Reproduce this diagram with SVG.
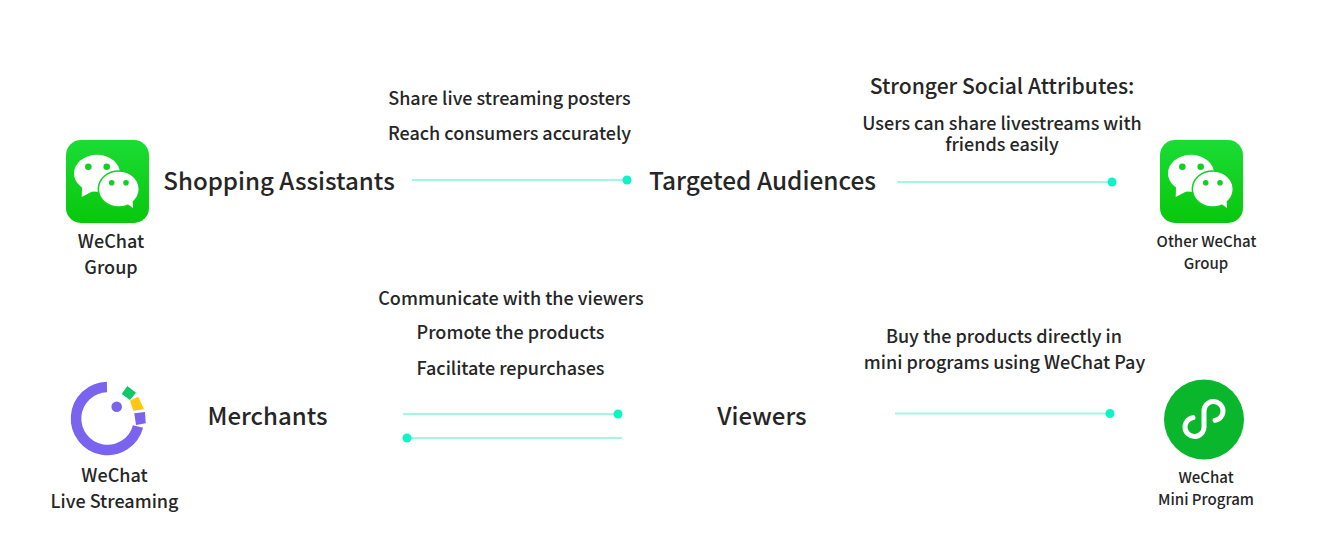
<svg xmlns="http://www.w3.org/2000/svg" width="1323" height="556" viewBox="0 0 1323 556">
<style>
text{font-family:"Noto Sans CJK SC","Noto Sans",sans-serif;font-weight:500;fill:#262626;text-anchor:middle}
.s18{font-size:18px}.s15{font-size:15px}.s24{font-size:24px}.s21{font-size:21.200px}
.ln{stroke:#9ff8e6;stroke-width:2;fill:none}
.dot{fill:#0df5c4}
</style>
<defs>
<linearGradient id="wg" x1="0" y1="0" x2="0" y2="1"><stop offset="0" stop-color="#1bdc35"/><stop offset="1" stop-color="#08c70c"/></linearGradient>
<g id="wechat">
<rect x="0" y="0" width="83" height="83" rx="15" fill="url(#wg)"/>
<ellipse cx="31" cy="33.300" rx="23" ry="18.500" fill="#fff"/>
<path d="M16 47L15.700 57L29 50Z" fill="#fff"/>
<circle cx="22.300" cy="26.700" r="3.300" fill="#12d022"/><circle cx="40.700" cy="26.700" r="3.300" fill="#12d022"/>
<ellipse cx="52.800" cy="49" rx="20.500" ry="18" fill="#fff" stroke="#12d022" stroke-width="1.500"/>
<path d="M60 63L67 68L66.500 58Z" fill="#fff"/>
<circle cx="45.700" cy="42.700" r="2.800" fill="#12d022"/><circle cx="60" cy="42.700" r="2.800" fill="#12d022"/>
</g>
</defs>
<g id="connectors">
<line class="ln" x1="412" y1="180" x2="627" y2="180"/><circle class="dot" cx="627" cy="180" r="4.500"/>
<line class="ln" x1="897" y1="182" x2="1112" y2="182"/><circle class="dot" cx="1112" cy="182" r="4.500"/>
<line class="ln" x1="403" y1="414" x2="618" y2="414"/><circle class="dot" cx="618" cy="414" r="4.500"/>
<line class="ln" x1="407" y1="438" x2="622" y2="438"/><circle class="dot" cx="407" cy="438" r="4.500"/>
<line class="ln" x1="895" y1="413.500" x2="1110" y2="413.500"/><circle class="dot" cx="1110" cy="413.500" r="4.500"/>
</g>
<g id="wechat-group">
<use href="#wechat" x="66" y="140"/>
<text class="s18" x="111" y="248">WeChat</text>
<text class="s18" x="111" y="274">Group</text>
</g>
<g id="shopping-assistants"><text class="s24" style="font-size:24.100px" x="279" y="190">Shopping Assistants</text></g>
<g id="share-text">
<text class="s18" x="509.500" y="105">Share live streaming posters</text>
<text class="s18" x="509.500" y="140">Reach consumers accurately</text>
</g>
<g id="targeted-audiences"><text class="s24" style="font-size:24.400px" x="762.500" y="190">Targeted Audiences</text></g>
<g id="social-text">
<text class="s21" x="1002" y="94" style="font-size:21.100px">Stronger Social Attributes:</text>
<text class="s18" x="1002" y="130">Users can share livestreams with</text>
<text class="s18" x="1002" y="151">friends easily</text>
</g>
<g id="other-wechat-group">
<use href="#wechat" x="1160" y="140"/>
<text class="s15" x="1206.500" y="247">Other WeChat</text>
<text class="s15" x="1206" y="269">Group</text>
</g>
<g id="wechat-live-streaming">
<path d="M107 387A31.500 31.500 0 1 0 138 426.500" fill="none" stroke="#7a63ee" stroke-width="10.500"/>
<circle cx="116.700" cy="406.700" r="5.300" fill="#7a63ee"/>
<path d="M121.700 394L127.300 386L136 392.700L130 400Z" fill="#0fc868"/>
<path d="M130 400.700L138.300 396.700L144 409.300L133.300 410.700Z" fill="#ffc612"/>
<path d="M134.300 413.300L145 412L145.700 423.300L136 425Z" fill="#7a63ee"/>
<text class="s18" x="114.500" y="482">WeChat</text>
<text class="s18" x="114.500" y="508">Live Streaming</text>
</g>
<g id="merchants"><text class="s24" x="267.500" y="425">Merchants</text></g>
<g id="merchant-text">
<text class="s18" x="511" y="305">Communicate with the viewers</text>
<text class="s18" x="510.500" y="339">Promote the products</text>
<text class="s18" x="510.500" y="375">Facilitate repurchases</text>
</g>
<g id="viewers"><text class="s24" x="762" y="425">Viewers</text></g>
<g id="buy-text">
<text class="s18" x="1004" y="343">Buy the products directly in</text>
<text class="s18" x="1004.500" y="369">mini programs using WeChat Pay</text>
</g>
<g id="wechat-mini-program">
<circle cx="1204" cy="419.500" r="40" fill="#0ab62b"/>
<path d="M1193 417.600A9.500 9.500 0 1 0 1204 427V411A9.500 9.500 0 1 1 1215 420.400" fill="none" stroke="#fff" stroke-width="5" stroke-linecap="round"/>
<text class="s15" x="1206" y="483">WeChat</text>
<text class="s15" x="1206" y="505">Mini Program</text>
</g>
</svg>
